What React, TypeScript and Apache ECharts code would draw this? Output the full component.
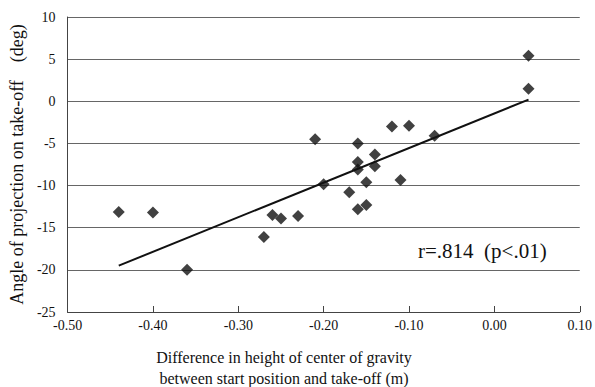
import React, { useEffect, useRef } from "react";
import * as echarts from "echarts";

const xValues = [0.04, 0.04, -0.12, -0.10, -0.21, -0.07, -0.16, -0.14, -0.14, -0.16, -0.16, -0.15, -0.11, -0.20, -0.17, -0.16, -0.15, -0.23, -0.44, -0.40, -0.36, -0.27, -0.26, -0.25];
const yValues = [5.4, 1.5, -3.0, -2.9, -4.5, -4.1, -5.0, -6.3, -7.7, -7.2, -8.1, -9.6, -9.35, -9.85, -10.8, -12.8, -12.3, -13.6, -13.15, -13.2, -20.0, -16.1, -13.5, -13.9];
const trendX = [-0.44, 0.04];
const trendY = [-19.5, 0.2];
const xTickLabels = ["-0.50", "-0.40", "-0.30", "-0.20", "-0.10", "0.00", "0.10"];
const xTitle = ["Difference in height of center of gravity", "between start position and take-off (m)"];
const yTitle = "Angle of projection on take-off\u3000(deg)";
const annotation = "r=.814  (p<.01)";

const FONT = "Liberation Serif";

export default function App() {
  const ref = useRef<HTMLDivElement>(null);
  useEffect(() => {
    if (!ref.current) return;
    const chart = echarts.init(ref.current, undefined, { renderer: "svg" });
    const points = xValues.map((x, i) => [x, yValues[i]]);
    const trend = trendX.map((x, i) => [x, trendY[i]]);
    chart.setOption({
      animation: false,
      backgroundColor: "#ffffff",
      textStyle: { fontFamily: FONT },
      grid: { left: 65, right: 10, top: 17, bottom: 75 },
      xAxis: {
        type: "value",
        min: -0.5,
        max: 0.1,
        interval: 0.1,
        axisLine: { show: true, onZero: false, lineStyle: { color: "#444", width: 1 } },
        axisTick: { show: true, inside: true, length: 6, lineStyle: { color: "#444" } },
        splitLine: { show: false },
        axisLabel: {
          color: "#111",
          fontSize: 14,
          fontFamily: FONT,
          margin: 6,
          formatter: (v: number) => {
            const idx = Math.round((v + 0.5) / 0.1);
            return xTickLabels[idx] ?? "";
          },
        },
      },
      yAxis: {
        type: "value",
        min: -25,
        max: 10,
        interval: 5,
        name: yTitle,
        nameLocation: "middle",
        nameGap: 38,
        nameTextStyle: { color: "#111", fontSize: 18, fontFamily: FONT },
        axisLine: { show: true, onZero: false, lineStyle: { color: "#444", width: 1 } },
        axisTick: { show: false },
        splitLine: { show: true, lineStyle: { color: "#666", width: 1 } },
        axisLabel: { color: "#111", fontSize: 14, fontFamily: FONT, margin: 12 },
      },
      graphic: [
        {
          type: "text",
          x: 284,
          y: 357,
          style: {
            text: xTitle[0],
            fontSize: 16,
            fontFamily: FONT,
            fill: "#111",
            align: "center",
            verticalAlign: "middle",
          },
        },
        {
          type: "text",
          x: 284,
          y: 378,
          style: {
            text: xTitle[1],
            fontSize: 16,
            fontFamily: FONT,
            fill: "#111",
            align: "center",
            verticalAlign: "middle",
          },
        },
        {
          type: "text",
          x: 418,
          y: 251,
          style: {
            text: annotation,
            fontSize: 21,
            fontFamily: FONT,
            fill: "#111",
            align: "left",
            verticalAlign: "middle",
          },
        },
      ],
      series: [
        {
          type: "line",
          data: trend,
          symbol: "none",
          lineStyle: { color: "#111", width: 2 },
          z: 2,
        },
        {
          type: "scatter",
          data: points,
          symbol: "diamond",
          symbolSize: 12,
          itemStyle: { color: "#111" },
          z: 3,
        },
      ],
    });
    return () => chart.dispose();
  }, []);
  return <div ref={ref} style={{ width: 595, height: 387, position: "absolute", left: 0, top: 0 }} />;
}
